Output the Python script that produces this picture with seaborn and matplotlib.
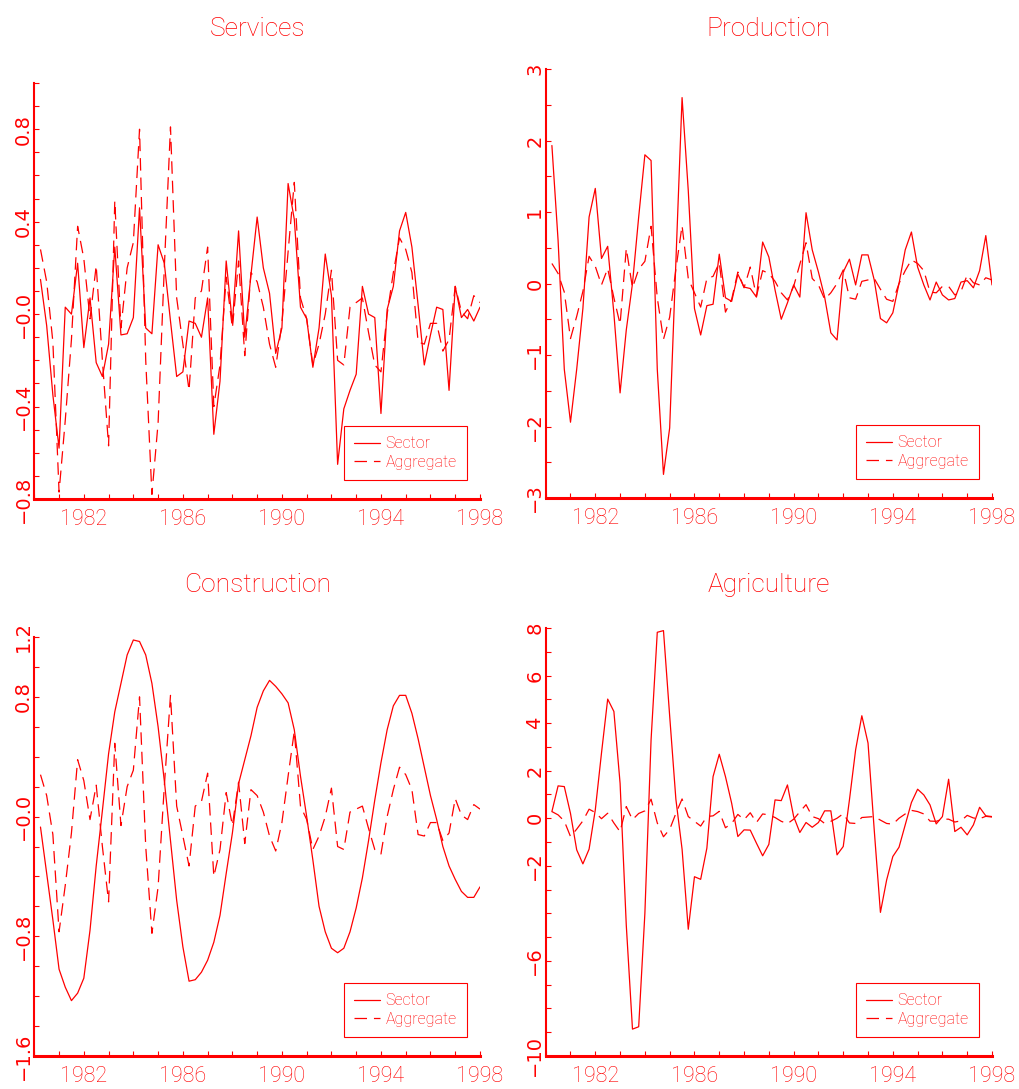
import matplotlib
matplotlib.use("Agg")
import matplotlib.pyplot as plt
import numpy as np
import pandas as pd
import seaborn as sns

sns.set_style("white")
plt.rcParams["font.family"] = ["Roboto", "DejaVu Sans"]
plt.rcParams["font.weight"] = "light"
plt.rcParams["lines.scale_dashes"] = False

RED = "#ff0000"

# quarterly observations, 1980Q2 .. 1998Q1
quarters = np.arange(1980.25, 1998.01, 0.25)

aggregate = [
    0.28, 0.14, -0.12, -0.77, -0.46, -0.11, 0.38, 0.24, -0.02, 0.21,
    -0.20, -0.57, 0.49, -0.06, 0.20, 0.31, 0.80, -0.20, -0.78, -0.47,
    0.20, 0.81, 0.07, -0.13, -0.33, 0.07, 0.10, 0.29, -0.40, -0.22,
    0.16, -0.06, 0.23, -0.18, 0.18, 0.14, 0.03, -0.13, -0.23, -0.04,
    0.27, 0.57, 0.07, -0.02, -0.22, -0.13, 0.00, 0.19, -0.20, -0.22,
    0.03, 0.05, 0.07, -0.08, -0.22, -0.25, 0.00, 0.18, 0.33, 0.28,
    0.18, -0.12, -0.13, -0.04, -0.04, -0.16, -0.11, 0.12, 0.01, -0.02,
    0.08, 0.05,
]

services = [
    0.15, -0.05, -0.35, -0.58, 0.03, 0.00, 0.22, -0.145, 0.07, -0.21,
    -0.27, -0.13, 0.29, -0.09, -0.085, -0.015, 0.46, -0.06, -0.085, 0.30,
    0.22, -0.03, -0.27, -0.25, -0.03, -0.04, -0.10, 0.07, -0.52, -0.29,
    0.23, -0.04, 0.36, -0.10, 0.17, 0.42, 0.20, 0.09, -0.17, -0.06,
    0.565, 0.41, 0.03, -0.02, -0.23, -0.06, 0.26, 0.08, -0.65, -0.41,
    -0.33, -0.26, 0.12, 0.00, -0.015, -0.43, 0.02, 0.12, 0.36, 0.44,
    0.29, 0.04, -0.22, -0.09, 0.03, 0.02, -0.33, 0.12, -0.015, 0.02,
    -0.03, 0.03,
]

production = [
    1.93, 0.60, -1.20, -1.94, -1.20, -0.35, 0.93, 1.33, 0.35, 0.52,
    -0.42, -1.53, -0.65, 0.00, 0.93, 1.80, 1.72, -1.20, -2.67, -2.02,
    0.30, 2.60, 1.30, -0.35, -0.72, -0.31, -0.29, 0.41, -0.20, -0.25,
    0.13, -0.05, -0.07, -0.19, 0.58, 0.37, -0.09, -0.50, -0.27, -0.02,
    -0.19, 0.99, 0.47, 0.16, -0.19, -0.69, -0.79, 0.16, 0.34, -0.02,
    0.40, 0.40, 0.05, -0.49, -0.55, -0.41, 0.00, 0.47, 0.72, 0.23,
    -0.02, -0.23, 0.02, -0.16, -0.23, -0.21, 0.02, 0.04, -0.06, 0.18,
    0.67, -0.02,
]

construction = [
    -0.07, -0.38, -0.69, -1.02, -1.14, -1.23, -1.18, -1.08, -0.76, -0.33,
    0.04, 0.42, 0.70, 0.89, 1.08, 1.18, 1.17, 1.08, 0.89, 0.60,
    0.24, -0.16, -0.56, -0.87, -1.10, -1.09, -1.04, -0.96, -0.84, -0.66,
    -0.38, -0.11, 0.22, 0.38, 0.54, 0.73, 0.84, 0.91, 0.87, 0.82,
    0.76, 0.58, 0.27, 0.00, -0.29, -0.60, -0.77, -0.88, -0.91, -0.88,
    -0.77, -0.61, -0.41, -0.16, 0.11, 0.36, 0.58, 0.74, 0.81, 0.81,
    0.69, 0.52, 0.33, 0.14, -0.02, -0.20, -0.33, -0.42, -0.50, -0.54,
    -0.54, -0.47,
]

agriculture = [
    0.28, 1.36, 1.33, 0.20, -1.33, -1.92, -1.30, 0.35, 2.74, 5.01,
    4.49, 1.47, -4.50, -8.87, -8.77, -4.00, 3.30, 7.82, 7.89, 4.30,
    0.80, -1.30, -4.67, -2.46, -2.57, -1.26, 1.75, 2.69, 1.75, 0.63,
    -0.77, -0.49, -0.50, -1.05, -1.58, -1.10, 0.77, 0.74, 1.40, 0.07,
    -0.60, -0.18, -0.38, -0.18, 0.31, 0.31, -1.54, -1.19, 0.77, 2.88,
    4.31, 3.16, -0.49, -3.96, -2.60, -1.61, -1.22, -0.28, 0.66, 1.22,
    0.98, 0.56, -0.24, 0.07, 1.64, -0.56, -0.38, -0.70, -0.28, 0.46,
    0.10, 0.07,
]

year_ticks = list(range(1980, 1999))
year_labels = ["1982", "1986", "1990", "1994", "1998"]

services_labels = {-0.8: "\u22120.8", -0.4: "\u22120.4", 0.0: "\u22120.0", 0.4: "0.4", 0.8: "0.8"}
production_labels = {-3.0: "\u22123", -2.0: "\u22122", -1.0: "\u22121", 0.0: "0", 1.0: "1", 2.0: "2", 3.0: "3"}
construction_labels = {-1.6: "\u22121.6", -0.8: "\u22120.8", 0.0: "\u22120.0", 0.8: "0.8", 1.2: "1.2"}
agriculture_labels = {-10.0: "\u221210", -6.0: "\u22126", -2.0: "\u22122", 0.0: "0", 2.0: "2",
                      4.0: "4", 6.0: "6", 8.0: "8"}

W, H = 1020, 1089
# title, sector series, (ymin, ymax, tick step), labels, axes box in px (l, t, r, b), title baseline px
panels = [
    ("Services", services, (-0.8, 1.0, 0.1), services_labels, (34.3, 83, 480, 499), 36),
    ("Production", production, (-3.0, 3.0, 0.5), production_labels, (545.7, 69, 992, 498), 36),
    ("Construction", construction, (-1.6, 1.2, 0.2), construction_labels, (34.3, 637, 480, 1056), 592),
    ("Agriculture", agriculture, (-10.0, 8.0, 1.0), agriculture_labels, (545.7, 628, 992, 1056), 592),
]

fig = plt.figure(figsize=(W / 100, H / 100), dpi=100)

for title, sector, (ylo, yhi, ystep), ylabels, (l, t, r, b), ty in panels:
    ax = fig.add_axes([l / W, 1 - b / H, (r - l) / W, (b - t) / H])
    df = pd.DataFrame({
        "quarter": np.concatenate([quarters, quarters]),
        "value": list(sector) + list(aggregate),
        "series": ["Sector"] * len(sector) + ["Aggregate"] * len(aggregate),
    })
    sns.lineplot(data=df, x="quarter", y="value", style="series",
                 style_order=["Sector", "Aggregate"],
                 dashes={"Sector": "", "Aggregate": (9, 5)},
                 color=RED, lw=0.9, estimator=None, ax=ax)

    ax.set_xlim(1980, 1998)
    ax.set_ylim(ylo, yhi)
    ax.set_xlabel("")
    ax.set_ylabel("")

    ax.set_xticks(year_ticks)
    ax.set_xticklabels([str(y) if str(y) in year_labels else "" for y in year_ticks],
                       fontsize=15.5, color=RED)
    yt = np.round(np.arange(ylo, yhi + ystep / 2, ystep), 2)
    ax.set_yticks(yt)
    ax.set_yticklabels([ylabels.get(round(float(v), 2), "") for v in yt],
                       rotation=90, va="center", fontsize=14, color=RED,
                       family="DejaVu Sans", fontweight="normal")
    ax.tick_params(axis="both", direction="in", length=3.6, width=0.8, color=RED,
                   bottom=True, left=True)
    ax.tick_params(axis="x", pad=7)
    ax.tick_params(axis="y", pad=1.0)

    sns.despine(ax=ax)
    ax.spines["left"].set_color(RED)
    ax.spines["left"].set_linewidth(1.5)
    ax.spines["bottom"].set_color(RED)
    ax.spines["bottom"].set_linewidth(2.2)

    handles, labels = ax.get_legend_handles_labels()
    leg = ax.legend(handles, labels, loc="lower right",
                    bbox_to_anchor=((r - 13) / W, 1 - (b - 19) / H),
                    bbox_transform=fig.transFigure, borderaxespad=0,
                    fancybox=False, framealpha=1, edgecolor=RED,
                    fontsize=11.5, labelcolor=RED, handlelength=1.6,
                    handletextpad=0.35, borderpad=0.65, labelspacing=0.22)
    leg.get_frame().set_linewidth(0.8)
    for h in leg.get_lines():
        h.set_color(RED)
        h.set_linewidth(0.9)

    fig.text((l + r) / 2 / W, 1 - ty / H, title, ha="center", va="baseline",
             fontsize=19, color=RED)

fig.savefig("out.png", dpi=100)
